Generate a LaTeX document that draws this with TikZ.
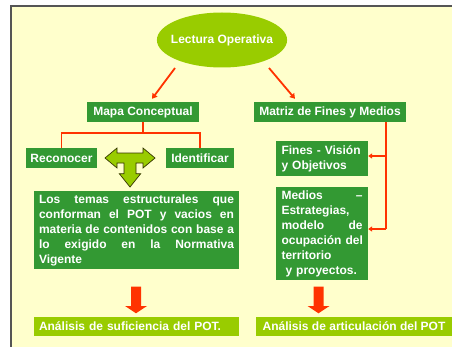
\documentclass[tikz,border=0pt]{standalone}
\usepackage{fontspec}
\setmainfont{Liberation Sans}
\usetikzlibrary{arrows.meta,calc,shapes.geometric}
\definecolor{bgy}{HTML}{FFFFCC}
\definecolor{dgreen}{HTML}{339933}
\definecolor{lgreen}{HTML}{99CC00}
\definecolor{ared}{HTML}{FF3300}
\definecolor{framec}{HTML}{555555}
\definecolor{toutline}{HTML}{333300}
\newcommand{\jline}[2]{\makebox[#1][l]{#2}}
\begin{document}
\begin{tikzpicture}[x=1pt,y=1pt,
  every node/.style={font=\fontsize{12}{15}\selectfont\bfseries, text=white},
  gbox/.style={fill=dgreen, inner sep=0pt, minimum height=20pt},
  ybox/.style={fill=lgreen, inner sep=0pt, minimum height=19pt},
  tbox/.style={fill=dgreen, inner ysep=0pt, align=left},
  redline/.style={draw=ared, line width=1.6pt},
  redarrow/.style={draw=ared, line width=1.8pt, -{Triangle[width=6pt,length=5pt]}},
  redtip/.style={draw=ared, line width=1.6pt, -{Triangle[width=5pt,length=4pt]}},
  blockarrow/.style={fill=ared, draw=none},
  tarrow/.style={fill=lgreen, draw=toutline, line width=0.7pt, line join=miter}
]
\useasboundingbox (0,0) rectangle (452,346);
\clip (0,0) rectangle (452,346);
\fill[white] (0,0) rectangle (452,346);
\filldraw[fill=bgy, draw=framec, line width=1.4pt] (11,-20) rectangle (480,340);

% top ellipse
\node[ellipse, fill=lgreen, minimum width=129pt, minimum height=55pt, inner xsep=-5pt, inner ysep=0pt] (lectura) at (222,306) {Lectura Operativa};

% level 2
\node[gbox, minimum width=112pt] (mapa) at (143,234) {Mapa Conceptual};
\node[gbox, minimum width=152pt] (matriz) at (330,234) {Matriz de Fines y Medios};

\draw[redarrow] ($(lectura.center)+(-47,-28)$) -- ($(mapa.north)+(9,3)$);
\draw[redarrow] ($(lectura.center)+(47,-28)$) -- ($(matriz.north)+(-35,3)$);

% left branch
\node[gbox, minimum width=71pt] (reconocer) at (61.5,188) {Reconocer};
\node[gbox, minimum width=68pt] (identificar) at (200,188) {Identificar};
\draw[redline] (mapa.south) -- ++(0,-11) coordinate (mj) -| (reconocer.north);
\draw[redline] (mj) -| (identificar.north);

% T-shaped arrow
\draw[tarrow] (105,188) -- (117,198) -- (117,193) -- (143,193) -- (143,198) -- (155,188)
  -- (143,178) -- (143,183) -- (136,183) -- (136,172.3) -- (140.7,172.3) -- (130,159)
  -- (119.3,172.3) -- (124,172.3) -- (124,183) -- (117,183) -- (117,178) -- cycle;

\node[tbox, text width=195pt, inner xsep=5pt, minimum height=78pt] (temas) at (136.5,116) {%
\jline{195pt}{Los\hfill temas\hfill estructurales\hfill que}\\
\jline{195pt}{conforman\hfill el\hfill POT\hfill y\hfill vacios\hfill en}\\
\jline{195pt}{materia\hfill de\hfill contenidos\hfill con\hfill base\hfill a}\\
\jline{195pt}{lo\hfill exigido\hfill en\hfill la\hfill Normativa}\\
Vigente};

% left bottom
\fill[blockarrow] (131,59.3) -- (141,59.3) -- (141,40) -- (147,40) -- (136,32.7) -- (125,40) -- (131,40) -- cycle;
\node[ybox, minimum width=205pt, text width=195pt, align=left] (suf) at (136.5,19.5) {Análisis de suficiencia del POT.};

% right branch
\node[tbox, text width=81pt, inner xsep=5.5pt, minimum height=35pt] (fines) at (322,187.5) {Fines - Visión\\y Objetivos};
\node[tbox, text width=81pt, inner xsep=5.5pt, minimum height=93pt] (medios) at (322,112.5) {%
\jline{81pt}{Medios\hfill –}\\
Estrategias,\\
\jline{81pt}{modelo\hfill de}\\
\jline{81pt}{ocupación del}\\
territorio\\
\hspace*{4pt}y proyectos.};

\coordinate (rtop) at ($(matriz.south)+(56,0)$);
\coordinate (fe) at ($(fines.east)+(0,2.5)$);
\coordinate (me) at ($(medios.east)+(0,4.5)$);
\draw[redline] (rtop) -- (rtop |- me);
\draw[redtip] (rtop |- fe) -- (fe);
\draw[redtip] (rtop |- me) -- (me);

\fill[blockarrow] (313.5,59.3) -- (323.5,59.3) -- (323.5,40) -- (329.5,40) -- (318.5,32.7) -- (307.5,40) -- (313.5,40) -- cycle;
\node[ybox, minimum width=196pt] (art) at (354,19.5) {Análisis de articulación del POT};
\end{tikzpicture}
\end{document}
